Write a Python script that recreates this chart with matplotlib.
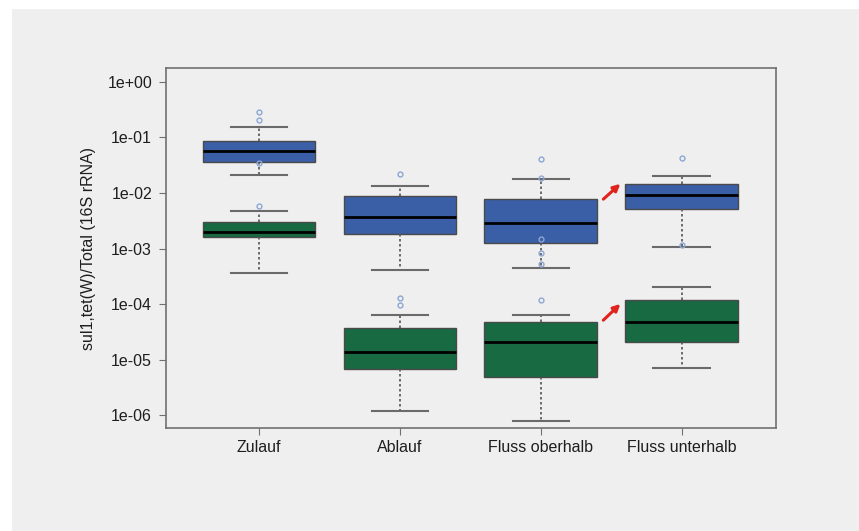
import numpy as np
import matplotlib.pyplot as plt
from matplotlib.patches import Rectangle

plt.rcParams['font.family'] = ['Liberation Sans', 'DejaVu Sans']

categories = ['Zulauf', 'Ablauf', 'Fluss oberhalb', 'Fluss unterhalb']

# upper (blue) boxes
blue_whislo = [0.0214, 0.000405, 0.000452, 0.00108]
blue_q1 = [0.036, 0.00182, 0.00126, 0.00522]
blue_med = [0.057, 0.0037, 0.00288, 0.0091]
blue_q3 = [0.0877, 0.00895, 0.0078, 0.0143]
blue_whishi = [0.157, 0.0134, 0.0176, 0.020]
blue_fliers = [[0.284, 0.209, 0.035], [0.022],
               [0.041, 0.0186, 0.00148, 0.00084, 0.000525], [0.042, 0.00114]]

# lower (green) boxes
green_whislo = [0.000357, 1.18e-6, 7.8e-7, 7.2e-6]
green_q1 = [0.00163, 6.75e-6, 4.78e-6, 2.04e-5]
green_med = [0.00201, 1.40e-5, 2.04e-5, 4.8e-5]
green_q3 = [0.00297, 3.74e-5, 4.68e-5, 1.18e-4]
green_whishi = [0.00468, 6.45e-5, 6.45e-5, 2.0e-4]
green_fliers = [[0.0059], [1.3e-4, 9.7e-5], [1.18e-4], []]

# red arrows (tail -> head)
arrow_x0 = [3.43, 3.43]
arrow_y0 = [0.00718, 4.74e-5]
arrow_x1 = [3.58, 3.58]
arrow_y1 = [0.0158, 1.09e-4]

fig = plt.figure(figsize=(8.59, 5.31), dpi=100, facecolor='white')
fig.patches.append(Rectangle((12 / 859, 0), 1, 1 - 9 / 531, transform=fig.transFigure,
                             facecolor='#efefef', edgecolor='none', zorder=-10))
ax = fig.add_axes([166 / 859, 1 - 428 / 531, 610 / 859, 360 / 531])
ax.set_facecolor('#efefef')


def make_stats(lo, q1, med, q3, hi, fl):
    return [dict(whislo=lo[i], q1=q1[i], med=med[i], q3=q3[i], whishi=hi[i],
                 fliers=fl[i]) for i in range(len(lo))]


pos = np.arange(1, len(categories) + 1)
for stats, col in [(make_stats(blue_whislo, blue_q1, blue_med, blue_q3, blue_whishi, blue_fliers), '#3a5fa7'),
                   (make_stats(green_whislo, green_q1, green_med, green_q3, green_whishi, green_fliers), '#176a41')]:
    ax.bxp(stats, positions=pos, widths=0.8, capwidths=0.4, patch_artist=True,
           boxprops=dict(facecolor=col, edgecolor='#4a4a4a', linewidth=1),
           medianprops=dict(color='black', linewidth=2),
           whiskerprops=dict(color='#555555', linestyle=(0, (1.5, 1.5)), linewidth=1.2),
           capprops=dict(color='#6a6a6a', linewidth=1.5),
           flierprops=dict(marker='o', markersize=3.5, markerfacecolor='none',
                           markeredgecolor='#8ca6d4', markeredgewidth=1, zorder=5))

for i in range(len(arrow_x0)):
    ax.annotate('', xy=(arrow_x1[i], arrow_y1[i]), xytext=(arrow_x0[i], arrow_y0[i]),
                arrowprops=dict(arrowstyle='-|>', color='#e0231c', lw=2.2, mutation_scale=10))

ax.set_yscale('log')
ax.set_ylim(10 ** -6.23, 10 ** 0.25)
ax.set_xlim(0.34, 4.67)
yt = [10.0 ** k for k in range(0, -7, -1)]
ax.set_yticks(yt)
ax.set_yticklabels(['1e+00', '1e-01', '1e-02', '1e-03', '1e-04', '1e-05', '1e-06'])
ax.minorticks_off()
ax.set_xticks(pos)
ax.set_xticklabels(categories)
ax.tick_params(axis='both', direction='out', length=5, color='#707070', labelsize=11.5,
               labelcolor='#1e1e1e')
ax.tick_params(axis='x', pad=4)
ax.tick_params(axis='y', pad=5)
for s in ax.spines.values():
    s.set_color('#707070')
    s.set_linewidth(1.2)
ax.set_ylabel('sul1,tet(W)/Total (16S rRNA)', fontsize=11.5, color='#1e1e1e', labelpad=8)

fig.savefig('out.png', dpi=100, facecolor='white')
